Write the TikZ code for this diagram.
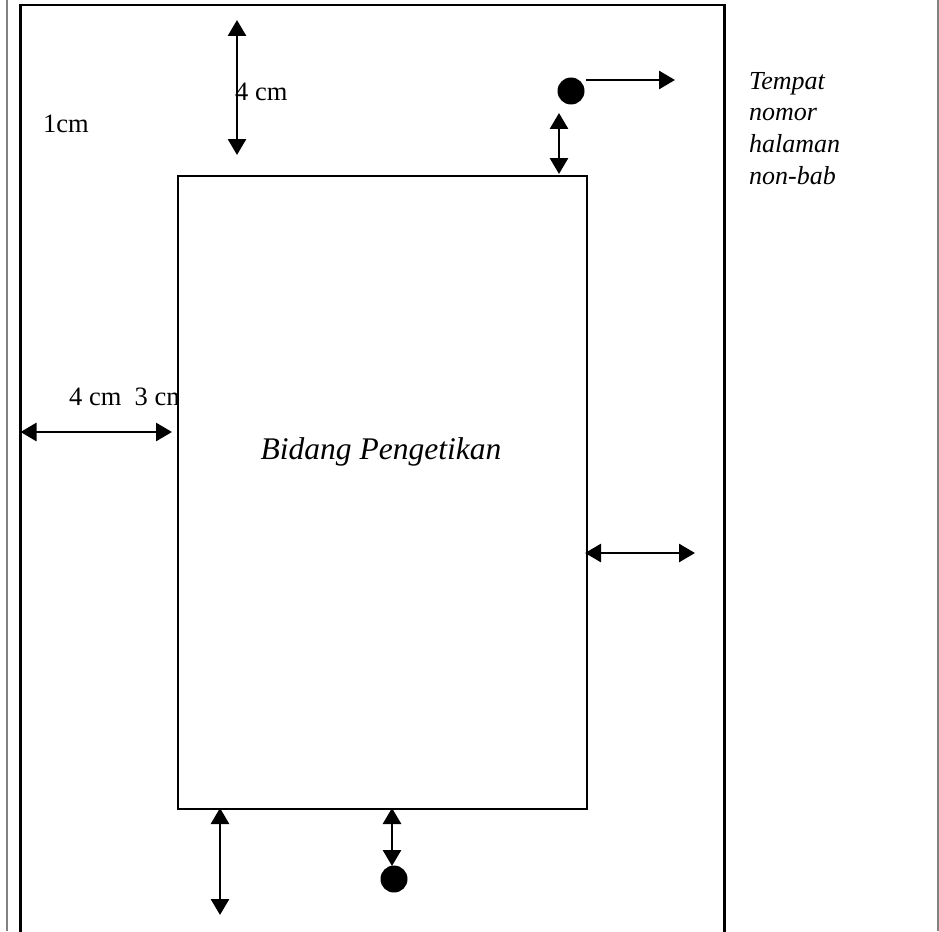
\documentclass[tikz,border=0pt]{standalone}
\usepackage{fontspec}
\setmainfont{Liberation Serif}
\usetikzlibrary{arrows.meta}
\definecolor{sidegray}{RGB}{130,130,130}
\begin{document}
\begin{tikzpicture}[x=1pt,y=-1pt,
  dim/.style={line width=2.8pt,{Triangle[width=18pt,length=16pt]}-{Triangle[width=18pt,length=16pt]}},
  onearrow/.style={line width=2.8pt,-{Triangle[width=18pt,length=16pt]}},
  lbl/.style={anchor=base west,inner sep=0pt,font=\fontsize{26.5}{31}\selectfont},
  ilbl/.style={anchor=base west,inner sep=0pt,font=\fontsize{26}{31}\selectfont\itshape},
  dot/.style={circle,fill=black,minimum size=27pt,inner sep=0pt}]
\useasboundingbox (0,0) rectangle (939,931);
\clip (0,0) rectangle (939,931);
\fill[white] (0,0) rectangle (939,931);
% gray side lines
\draw[line width=2pt,sidegray] (6.5,0) -- (6.5,931);
\draw[line width=2pt,sidegray] (937.5,0) -- (937.5,931);
% outer frame
\draw[line width=2.5pt] (20.5,945) -- (20.5,5) -- (724.5,5) -- (724.5,945);
% labels
\node[lbl] (l1) at (43,132) {1cm};
\node[lbl] (l43) at (69,405) {4 cm\ \ 3 cm};
% inner rectangle (covers part of the label)
\node[draw,fill=white,line width=1.8pt,minimum width=409pt,minimum height=633pt,inner sep=0pt,anchor=north west] (page) at (177,175) {};
\node[lbl] (l4) at (235,101) {4 cm};
\node[anchor=base,inner sep=0pt,font=\fontsize{31.5}{37}\selectfont\itshape] (title) at (381,459) {Bidang Pengetikan};
\node[ilbl] (t1) at (749,90) {Tempat};
\node[ilbl] (t2) at (749,121) {nomor};
\node[ilbl] (t3) at (749,153) {halaman};
\node[ilbl] (t4) at (749,184) {non-bab};
% dots
\node[dot] (d1) at (571,91) {};
\node[dot] (d2) at (394,879) {};
% coordinates
\coordinate (a1) at (237,20);
\coordinate (a2) at (237,155);
\coordinate (b1) at (20.5,432);
\coordinate (b2) at (172,432);
\coordinate (c1) at (559,113);
\coordinate (c2) at (559,174);
\coordinate (e1) at (586,80);
\coordinate (e2) at (675,80);
\coordinate (f1) at (585,553);
\coordinate (f2) at (695,553);
\coordinate (g1) at (220,808);
\coordinate (g2) at (220,915);
\coordinate (h1) at (392,808);
\coordinate (h2) at (392,866);
% arrows
\draw[dim] (a1) -- (a2);
\draw[dim] (b1) -- (b2);
\draw[dim] (c1) -- (c2);
\draw[onearrow] (e1) -- (e2);
\draw[dim] (f1) -- (f2);
\draw[dim] (g1) -- (g2);
\draw[dim] (h1) -- (h2);
\end{tikzpicture}
\end{document}
